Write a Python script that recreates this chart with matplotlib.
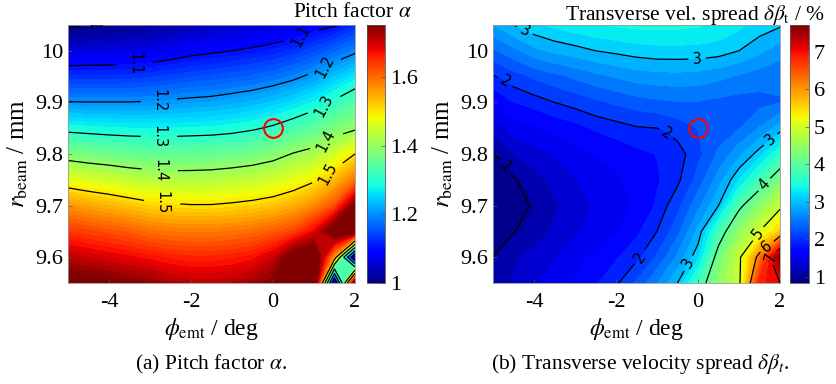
import numpy as np
import matplotlib
matplotlib.use('Agg')
import matplotlib.pyplot as plt
from matplotlib.colors import Normalize

plt.rcParams['font.family'] = ['Liberation Serif', 'DejaVu Serif']
plt.rcParams['mathtext.fontset'] = 'stix'
plt.rcParams['axes.unicode_minus'] = False

# grid of the parameter scan
phi_emt = [-5.0, -4.5, -4.0, -3.5, -3.0, -2.5, -2.0, -1.5, -1.0, -0.5, 0.0, 0.5, 1.0, 1.5, 2.0]
r_beam = [9.55, 9.60, 9.65, 9.70, 9.75, 9.80, 9.85, 9.90, 9.95, 10.00, 10.05]

# pitch factor alpha, one row per r_beam value
alpha = [
    [1.780, 1.770, 1.760, 1.750, 1.740, 1.720, 1.710, 1.710, 1.715, 1.730, 1.750, 1.800, 1.850, 1.000, 1.800],
    [1.710, 1.700, 1.690, 1.680, 1.670, 1.660, 1.655, 1.655, 1.660, 1.670, 1.700, 1.780, 1.820, 1.550, 1.000],
    [1.640, 1.630, 1.620, 1.610, 1.595, 1.588, 1.585, 1.585, 1.590, 1.597, 1.610, 1.630, 1.680, 1.800, 1.800],
    [1.564, 1.551, 1.539, 1.526, 1.513, 1.507, 1.503, 1.503, 1.508, 1.515, 1.525, 1.543, 1.573, 1.620, 1.760],
    [1.471, 1.459, 1.450, 1.439, 1.431, 1.427, 1.427, 1.429, 1.435, 1.441, 1.452, 1.469, 1.493, 1.533, 1.590],
    [1.376, 1.368, 1.362, 1.355, 1.352, 1.350, 1.352, 1.354, 1.359, 1.368, 1.381, 1.403, 1.418, 1.452, 1.500],
    [1.286, 1.282, 1.278, 1.276, 1.275, 1.276, 1.278, 1.280, 1.285, 1.294, 1.307, 1.326, 1.347, 1.375, 1.392],
    [1.202, 1.201, 1.201, 1.201, 1.203, 1.207, 1.211, 1.214, 1.221, 1.229, 1.241, 1.257, 1.278, 1.307, 1.338],
    [1.129, 1.129, 1.129, 1.131, 1.135, 1.142, 1.149, 1.154, 1.160, 1.167, 1.177, 1.191, 1.211, 1.238, 1.266],
    [1.060, 1.062, 1.064, 1.065, 1.070, 1.078, 1.088, 1.094, 1.100, 1.107, 1.116, 1.129, 1.147, 1.170, 1.192],
    [0.993, 0.999, 1.004, 1.012, 1.018, 1.024, 1.033, 1.039, 1.044, 1.051, 1.059, 1.068, 1.084, 1.096, 1.126],
]

# transverse velocity spread in %
dbeta = [
    [1.08, 1.25, 1.40, 1.52, 1.65, 1.80, 1.96, 2.25, 2.60, 3.00, 3.75, 4.40, 4.90, 6.90, 7.00],
    [1.00, 1.20, 1.30, 1.42, 1.55, 1.68, 1.80, 1.95, 2.25, 2.65, 3.15, 4.20, 4.90, 6.20, 7.72],
    [0.88, 0.99, 1.12, 1.27, 1.40, 1.50, 1.62, 1.78, 2.00, 2.35, 2.85, 3.75, 4.45, 5.00, 5.60],
    [0.84, 0.90, 1.03, 1.20, 1.35, 1.45, 1.55, 1.65, 1.85, 2.15, 2.55, 3.00, 3.90, 4.40, 4.90],
    [0.90, 0.97, 1.15, 1.30, 1.42, 1.52, 1.60, 1.70, 1.80, 1.95, 2.30, 2.70, 3.20, 3.75, 4.30],
    [0.97, 1.24, 1.35, 1.45, 1.55, 1.63, 1.70, 1.77, 1.83, 1.90, 2.15, 2.45, 2.75, 3.10, 3.60],
    [1.29, 1.53, 1.60, 1.68, 1.75, 1.85, 1.91, 1.98, 2.00, 2.10, 2.22, 2.30, 2.40, 2.62, 2.90],
    [1.64, 1.82, 1.90, 2.00, 2.08, 2.17, 2.25, 2.32, 2.37, 2.40, 2.40, 2.36, 2.33, 2.35, 2.40],
    [1.98, 2.12, 2.25, 2.35, 2.45, 2.55, 2.63, 2.70, 2.73, 2.74, 2.72, 2.66, 2.58, 2.50, 2.45],
    [2.37, 2.55, 2.75, 2.85, 2.92, 3.00, 3.05, 3.10, 3.13, 3.13, 3.13, 3.10, 3.00, 2.85, 2.70],
    [2.80, 3.00, 3.15, 3.25, 3.32, 3.38, 3.42, 3.45, 3.45, 3.45, 3.42, 3.35, 3.25, 3.12, 3.03],
]

alpha_lines = [1.0, 1.1, 1.2, 1.3, 1.4, 1.5]
dbeta_lines = [1, 2, 3, 4, 5, 6, 7]

# operating point
op_phi = 0.0
op_r = 9.85

X, Y = np.meshgrid(phi_emt, r_beam)
A = np.array(alpha)
B = np.array(dbeta)

fig = plt.figure(figsize=(8.36, 3.84), dpi=100)
ax1 = fig.add_axes([0.0813, 0.263, 0.3433, 0.672])
cax1 = fig.add_axes([0.439, 0.263, 0.0215, 0.672])
ax2 = fig.add_axes([0.5897, 0.263, 0.3433, 0.672])
cax2 = fig.add_axes([0.945, 0.263, 0.0227, 0.672])

fs = 16
lab_fs = 10.5


def style_axes(ax):
    ax.set_xlim(-5, 2)
    ax.set_ylim(9.55, 10.05)
    ax.set_xticks([-4, -2, 0, 2])
    ax.set_yticks([9.6, 9.7, 9.8, 9.9, 10.0])
    ax.set_yticklabels(['9.6', '9.7', '9.8', '9.9', '10'])
    ax.tick_params(direction='in', length=3, width=0.5, labelsize=fs, color='#555555')
    ax.tick_params(axis='x', pad=7)
    for s in ax.spines.values():
        s.set_color('#999999')
        s.set_linewidth(0.6)
    ax.set_xlabel(r'$\phi_{\mathrm{emt}}$ / deg', fontsize=17, labelpad=3)
    ax.set_ylabel(r'$r_{\mathrm{beam}}$ / mm', fontsize=18, labelpad=4)
    ax.plot(op_phi, op_r, 'o', ms=13.5, mfc='none', mec='red', mew=1.5)


def style_cbar(cb):
    cb.ax.tick_params(direction='in', length=3, width=0.5, labelsize=fs, color='#555555')
    cb.outline.set_edgecolor('#555555')
    cb.outline.set_linewidth(0.6)


# (a) pitch factor
lo_a, hi_a = 1.0, 1.752
ax1.contourf(X, Y, A, levels=np.linspace(lo_a, hi_a, 61), cmap='jet', extend='both')
cs1 = ax1.contour(X, Y, A, levels=alpha_lines, colors='k', linewidths=0.9)
pos1 = [(-3.85, 10.048), (-3.37, 9.971), (-2.78, 9.90), (-2.78, 9.835), (-2.76, 9.77), (-2.7, 9.709),
        (0.69, 10.029), (1.26, 9.968), (1.26, 9.893), (1.3, 9.826), (1.3, 9.767)]
ax1.clabel(cs1, fmt='%g', fontsize=lab_fs, manual=pos1, inline=True, inline_spacing=9)
# keep the gaps cut by clabel, but write the labels turned like the original export
placed = [(t.get_position(), t.get_text()) for t in cs1.labelTexts]
for t in list(cs1.labelTexts):
    t.remove()
for (x, y), s in placed:
    ax1.text(x, y, s, rotation=(270 if x < 0 else 62), ha='center', va='center',
             rotation_mode='anchor', clip_on=True, fontsize=lab_fs, family='DejaVu Sans', zorder=5)
style_axes(ax1)
sm1 = plt.cm.ScalarMappable(norm=Normalize(lo_a, hi_a), cmap='jet')
cb1 = fig.colorbar(sm1, cax=cax1, ticks=[1.0, 1.2, 1.4, 1.6])
cb1.ax.set_yticklabels(['1', '1.2', '1.4', '1.6'])
style_cbar(cb1)
fig.text(0.493, 0.993, r'Pitch factor $\alpha$', ha='right', va='top', fontsize=15.5)

# (b) transverse velocity spread
lo_b, hi_b = 0.84, 7.72
ax2.contourf(X, Y, B, levels=np.linspace(lo_b, hi_b, 36), cmap='jet', extend='both')
cs2 = ax2.contour(X, Y, B, levels=dbeta_lines, colors='k', linewidths=0.9)
pos2 = [(-4.22, 10.039), (-0.02, 9.984), (-4.69, 9.942), (-0.76, 9.842), (-4.63, 9.78),
        (-1.41, 9.60), (-0.27, 9.59), (1.73, 9.832), (1.6, 9.742), (1.56, 9.64), (1.69, 9.62), (1.77, 9.60)]
lab2 = ax2.clabel(cs2, fmt='%g', fontsize=lab_fs, manual=pos2, inline=True, inline_spacing=5)
for t in lab2:
    t.set_family('DejaVu Sans')
style_axes(ax2)
sm2 = plt.cm.ScalarMappable(norm=Normalize(lo_b, hi_b), cmap='jet')
cb2 = fig.colorbar(sm2, cax=cax2, ticks=[1, 2, 3, 4, 5, 6, 7])
style_cbar(cb2)
fig.text(0.987, 0.993, r'Transverse vel. spread $\delta\beta_{\mathrm{t}}$ / %', ha='right', va='top', fontsize=15.5)

# captions
fig.text(0.253, 0.022, r'(a) Pitch factor $\alpha$.', ha='center', va='bottom', fontsize=15.5)
fig.text(0.765, 0.022, r'(b) Transverse velocity spread $\delta\beta_t$.', ha='center', va='bottom', fontsize=15.5)

fig.savefig('out.png', dpi=100)
